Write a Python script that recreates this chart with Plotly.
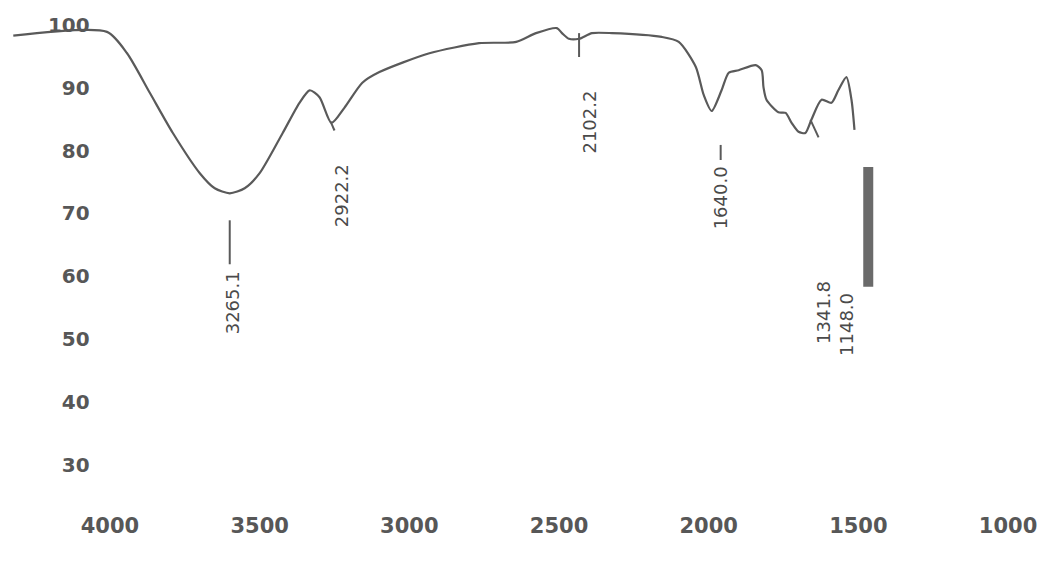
import plotly.graph_objects as go

# Spectrum (wavenumber as plotted on the axis, transmittance %)
wavenumber = [4323, 4010, 3943, 3867, 3790, 3700, 3650, 3600, 3550, 3500, 3423, 3367,
              3333, 3300, 3260, 3217, 3157, 3100, 2933, 2767, 2643, 2577, 2507, 2490,
              2467, 2433, 2390, 2323, 2157, 2100, 2043, 2017, 1990, 1957, 1933, 1900,
              1843, 1823, 1817, 1807, 1767, 1743, 1723, 1700, 1677, 1657, 1623, 1590,
              1567, 1540, 1523, 1513]
transmittance = [98.3, 98.9, 95.5, 89.2, 82.8, 76.4, 74.0, 73.2, 74.0, 76.4, 82.8, 87.6,
                 89.6, 88.5, 84.4, 86.8, 90.8, 92.5, 95.5, 97.1, 97.3, 98.7, 99.5, 98.7,
                 97.8, 97.8, 98.7, 98.7, 98.1, 97.3, 93.3, 88.9, 86.3, 89.6, 92.4, 92.8,
                 93.6, 92.8, 90.1, 88.1, 86.1, 86.0, 84.4, 83.0, 82.8, 84.9, 88.1, 87.6,
                 89.6, 91.7, 88.1, 83.3]

# Peak labels
peak_labels = ["3265.1", "2922.2", "2102.2", "1640.0", "1341.8", "1148.0"]
peak_label_x = [3590, 3227, 2397, 1960, 1617, 1540]
peak_label_y = [55.8, 72.8, 84.6, 72.5, 54.2, 52.3]

# Peak marker segments: x start, x end, y start, y end
marker_x = [3600, 3263, 2433, 1960, 1660]
marker_x1 = [3600, 3250, 2433, 1960, 1633]
marker_y0 = [68.9, 84.6, 98.7, 80.9, 84.9]
marker_y1 = [61.9, 83.2, 94.9, 78.5, 82.1]

# Thick bar
bar_x = 1467
bar_y0 = 77.4
bar_y1 = 58.3

x_ticks = [4000, 3500, 3000, 2500, 2000, 1500, 1000]
y_ticks = [30, 40, 50, 60, 70, 80, 90, 100]

line_col = "#5a5a5a"
text_col = "#4a4a4a"
tick_col = "#575757"

fig = go.Figure()
fig.add_trace(go.Scatter(x=wavenumber, y=transmittance, mode="lines",
                         line=dict(color=line_col, width=2.2, shape="spline", smoothing=0.7),
                         showlegend=False, hoverinfo="skip"))

shapes = []
for xa, xb, ya, yb in zip(marker_x, marker_x1, marker_y0, marker_y1):
    shapes.append(dict(type="line", xref="x", yref="y", x0=xa, x1=xb, y0=ya, y1=yb,
                       line=dict(color=line_col, width=2)))
shapes.append(dict(type="line", xref="x", yref="y", x0=bar_x, x1=bar_x, y0=bar_y0, y1=bar_y1,
                   line=dict(color="#6a6a6a", width=10)))

annotations = []
for t, xv, yv in zip(peak_labels, peak_label_x, peak_label_y):
    annotations.append(dict(x=xv, y=yv, xref="x", yref="y", text=t, showarrow=False,
                            textangle=-90,
                            font=dict(family="DejaVu Sans", size=18, color=text_col)))

fig.update_layout(
    width=1042, height=566,
    margin=dict(l=10, r=10, t=5, b=61),
    paper_bgcolor="white", plot_bgcolor="white",
    shapes=shapes, annotations=annotations,
    xaxis=dict(range=[4334, 920], tickvals=x_ticks, ticktext=[str(v) for v in x_ticks],
               showgrid=False, zeroline=False, showline=False, ticks="",
               ticklabelstandoff=6,
               tickfont=dict(family="DejaVu Sans", size=21, color=tick_col, weight="bold")),
    yaxis=dict(range=[23.57, 103.18], tickvals=y_ticks, ticktext=[str(v) for v in y_ticks],
               showgrid=False, zeroline=False, showline=False, ticks="",
               anchor="free", position=0.078,
               tickfont=dict(family="DejaVu Sans", size=20, color=tick_col, weight="bold")),
)

fig.write_html("out.html", config={"displayModeBar": False},
               post_script="document.body.style.margin='0';")
